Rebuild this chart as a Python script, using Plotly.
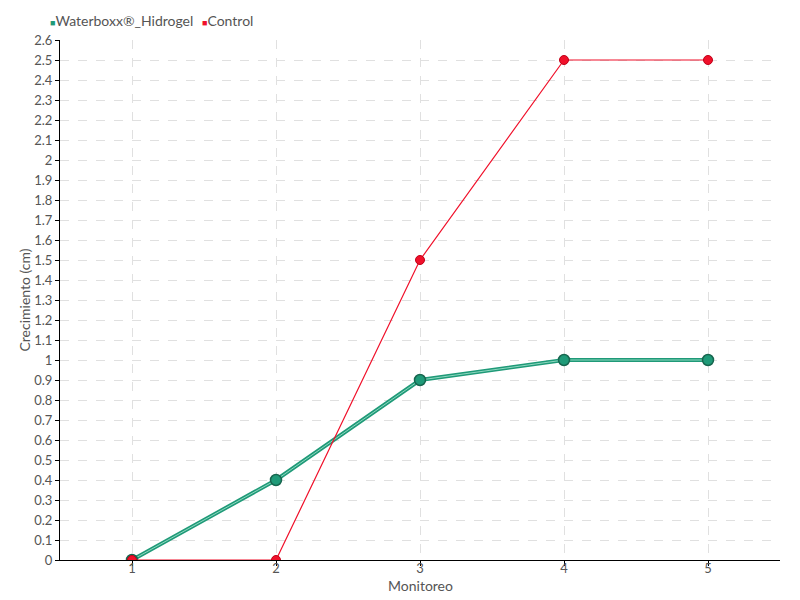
import plotly.graph_objects as go

# Datos
monitoreo = [1, 2, 3, 4, 5]
hidrogel = [0, 0.4, 0.9, 1.0, 1.0]
control = [0, 0, 1.5, 2.5, 2.5]
y_ticks = [round(i * 0.1, 1) for i in range(27)]
y_labels = [("%g" % v) for v in y_ticks]

GREEN = "#1f9a78"
GREEN_DARK = "#17664f"
GREEN_LIGHT = "#8fd8c0"
RED = "#f0102a"
FONT = "Lato, sans-serif"
GREY = "#555555"

fig = go.Figure()

# Waterboxx: linea doble (borde oscuro + centro claro)
fig.add_trace(go.Scatter(
    x=monitoreo, y=hidrogel, mode="lines",
    line=dict(color=GREEN, width=4), showlegend=False, hoverinfo="skip",
))
fig.add_trace(go.Scatter(
    x=monitoreo, y=hidrogel, mode="lines+markers",
    line=dict(color=GREEN_LIGHT, width=1),
    marker=dict(size=11, color=GREEN, line=dict(color=GREEN_DARK, width=1.5)),
    name="Waterboxx®_Hidrogel", showlegend=False,
))
fig.add_trace(go.Scatter(
    x=monitoreo, y=control, mode="lines+markers",
    line=dict(color=RED, width=1.2),
    marker=dict(size=9, color=RED, line=dict(color="#c00018", width=1)),
    name="Control", showlegend=False,
))

# la pagina deja 8px de margen en el body: se compensa en los margenes
PLOT_W, PLOT_H = 720, 520

# Leyenda manual (cuadrado + texto)
legend = [("Waterboxx®_Hidrogel", GREEN, 48), ("Control", RED, 200)]
for name, color, px in legend:
    fig.add_annotation(
        text=f"<span style='color:{color};font-size:9px'>■</span>{name}",
        xref="paper", yref="paper", x=(px - 60) / PLOT_W, y=1 + 19 / PLOT_H,
        xanchor="left", yanchor="middle", showarrow=False,
        font=dict(size=14, color=GREY, family=FONT),
    )

# Titulo del eje x
fig.add_annotation(
    text="Monitoreo", xref="paper", yref="paper", x=0.5, y=-25 / PLOT_H,
    xanchor="center", yanchor="middle", showarrow=False,
    font=dict(size=14, color=GREY, family=FONT),
)

fig.update_layout(
    width=800, height=600,
    margin=dict(l=52, r=28, t=32, b=48, autoexpand=False),
    paper_bgcolor="white", plot_bgcolor="white",
    font=dict(family=FONT, size=14, color=GREY),
    showlegend=False,
    xaxis=dict(
        range=[0.5, 5.5], tickvals=monitoreo, ticks="outside", ticklen=5,
        tickcolor="black", showline=True, linecolor="black", linewidth=1,
        showgrid=True, gridcolor="#e0e0e0", griddash="dash", zeroline=False,
        tickfont=dict(size=13), ticklabelstandoff=-9,
    ),
    yaxis=dict(
        range=[0, 2.6], tickvals=y_ticks, ticktext=y_labels, ticks="outside",
        ticklen=4, tickcolor="black", showline=True, linecolor="black",
        linewidth=1, showgrid=True, gridcolor="#e0e0e0", griddash="dash",
        zeroline=False, title=dict(text="Crecimiento (cm)", standoff=0,
                                   font=dict(size=14)),
        tickfont=dict(size=13),
    ),
)

fig.write_html("out.html")
